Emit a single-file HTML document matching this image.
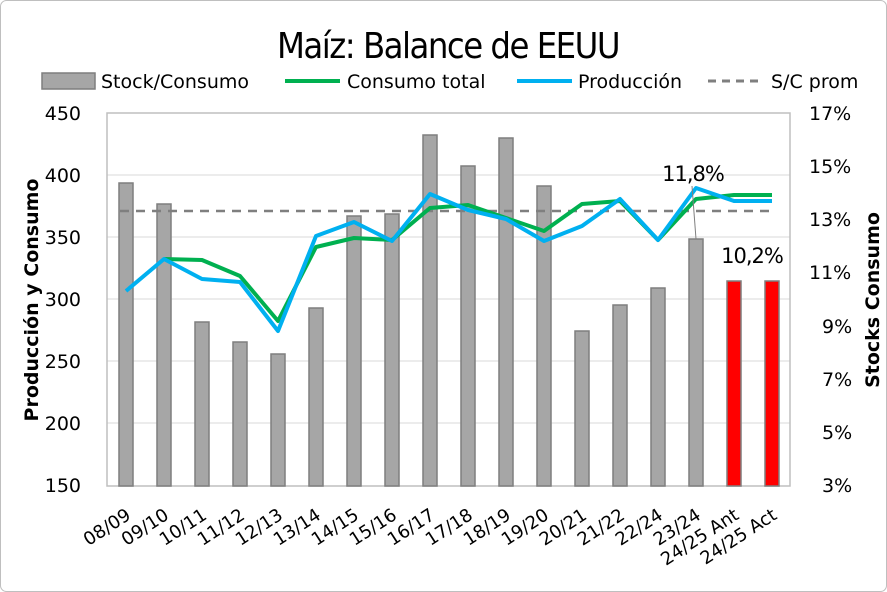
<!DOCTYPE html>
<html><head><meta charset="utf-8"><style>
body{margin:0;background:#fff}
svg{display:block;font-family:"DejaVu Sans","Liberation Sans",sans-serif}
</style></head><body>
<svg width="887" height="592" viewBox="0 0 887 592" xmlns="http://www.w3.org/2000/svg">
<rect x="0.5" y="0.5" width="886" height="591" rx="6" fill="#fff" stroke="#bfbfbf"/>
<text x="448" y="58" font-size="36" text-anchor="middle" font-family="'DejaVu Sans Condensed','DejaVu Sans',sans-serif" letter-spacing="-1.5">Maíz: Balance de EEUU</text>
<g font-size="19">
<rect x="42" y="73" width="53" height="16" fill="#a6a6a6" stroke="#7f7f7f" stroke-width="1.5"/>
<text x="101" y="88">Stock/Consumo</text>
<line x1="285" y1="81" x2="340" y2="81" stroke="#00b050" stroke-width="4"/>
<text x="347" y="88">Consumo total</text>
<line x1="517" y1="81" x2="572" y2="81" stroke="#00b0f0" stroke-width="4"/>
<text x="578" y="88">Producción</text>
<line x1="708" y1="81" x2="763" y2="81" stroke="#7f7f7f" stroke-width="3" stroke-dasharray="8,6"/>
<text x="771" y="88">S/C prom</text>
</g>
<g stroke="#d9d9d9" stroke-width="1">
<line x1="107" y1="175" x2="790" y2="175"/><line x1="107" y1="237" x2="790" y2="237"/>
<line x1="107" y1="299" x2="790" y2="299"/><line x1="107" y1="361" x2="790" y2="361"/>
<line x1="107" y1="423" x2="790" y2="423"/>
</g>
<rect x="107" y="113" width="683" height="373" fill="none" stroke="#bfbfbf" stroke-width="1.5"/>
<g font-size="19" text-anchor="end">
<text x="81" y="120">450</text><text x="81" y="182">400</text><text x="81" y="244">350</text>
<text x="81" y="306">300</text><text x="81" y="368">250</text><text x="81" y="430">200</text><text x="81" y="492">150</text>
</g>
<g font-size="19" text-anchor="start">
<text x="809" y="120">17%</text><text x="809" y="173">15%</text><text x="809" y="226">13%</text>
<text x="809" y="279">11%</text><text x="822" y="333">9%</text><text x="822" y="386">7%</text>
<text x="822" y="439">5%</text><text x="822" y="492">3%</text>
</g>
<text transform="translate(38,300) rotate(-90)" font-size="19" font-weight="bold" text-anchor="middle">Producción y Consumo</text>
<text transform="translate(879,300) rotate(-90)" font-size="19" font-weight="bold" text-anchor="middle">Stocks Consumo</text>
<g stroke="#7f7f7f" stroke-width="1.5" fill="#a6a6a6">
<rect x="119" y="183" width="14" height="303"/>
<rect x="157" y="204" width="14" height="282"/>
<rect x="195" y="322" width="14" height="164"/>
<rect x="233" y="342" width="14" height="144"/>
<rect x="271" y="354" width="14" height="132"/>
<rect x="309" y="308" width="14" height="178"/>
<rect x="347" y="216" width="14" height="270"/>
<rect x="385" y="214" width="14" height="272"/>
<rect x="423" y="135" width="14" height="351"/>
<rect x="461" y="166" width="14" height="320"/>
<rect x="499" y="138" width="14" height="348"/>
<rect x="537" y="186" width="14" height="300"/>
<rect x="575" y="331" width="14" height="155"/>
<rect x="613" y="305" width="14" height="181"/>
<rect x="651" y="288" width="14" height="198"/>
<rect x="689" y="239" width="14" height="247"/>
<rect x="727" y="281" width="14" height="205" fill="#ff0000"/>
<rect x="765" y="281" width="14" height="205" fill="#ff0000"/>
</g>
<line x1="120" y1="211" x2="775" y2="211" stroke="#7f7f7f" stroke-width="2.5" stroke-dasharray="9,7"/>
<polyline fill="none" stroke="#00b050" stroke-width="4" stroke-linejoin="round" points="164,259 202,260 240,276 278,321 316,247 354,238 392,240 430,208 468,205 506,218 544,231 582,204 620,201 658,240 696,199 734,195 772,195"/>
<polyline fill="none" stroke="#00b0f0" stroke-width="4" stroke-linejoin="round" points="126,291 164,259 202,279 240,282 278,331 316,236 354,222 392,241 430,194 468,210 506,219 544,241 582,226 620,199 658,240 696,188 734,201 772,201"/>
<line x1="692" y1="186" x2="696" y2="239" stroke="#7f7f7f" stroke-width="1"/>
<text x="693" y="181" font-size="21" text-anchor="middle" letter-spacing="-1">11,8%</text>
<text x="752" y="263" font-size="21" text-anchor="middle" letter-spacing="-1">10,2%</text>
<g font-size="18" text-anchor="end">
<text transform="translate(132,518) rotate(-33)">08/09</text>
<text transform="translate(170,518) rotate(-33)">09/10</text>
<text transform="translate(208,518) rotate(-33)">10/11</text>
<text transform="translate(246,518) rotate(-33)">11/12</text>
<text transform="translate(284,518) rotate(-33)">12/13</text>
<text transform="translate(322,518) rotate(-33)">13/14</text>
<text transform="translate(360,518) rotate(-33)">14/15</text>
<text transform="translate(398,518) rotate(-33)">15/16</text>
<text transform="translate(436,518) rotate(-33)">16/17</text>
<text transform="translate(474,518) rotate(-33)">17/18</text>
<text transform="translate(512,518) rotate(-33)">18/19</text>
<text transform="translate(550,518) rotate(-33)">19/20</text>
<text transform="translate(588,518) rotate(-33)">20/21</text>
<text transform="translate(626,518) rotate(-33)">21/22</text>
<text transform="translate(664,518) rotate(-33)">22/24</text>
<text transform="translate(702,518) rotate(-33)">23/24</text>
<text transform="translate(740,518) rotate(-33)">24/25 Ant</text>
<text transform="translate(778,518) rotate(-33)">24/25 Act</text>
</g>
</svg>
</body></html>
